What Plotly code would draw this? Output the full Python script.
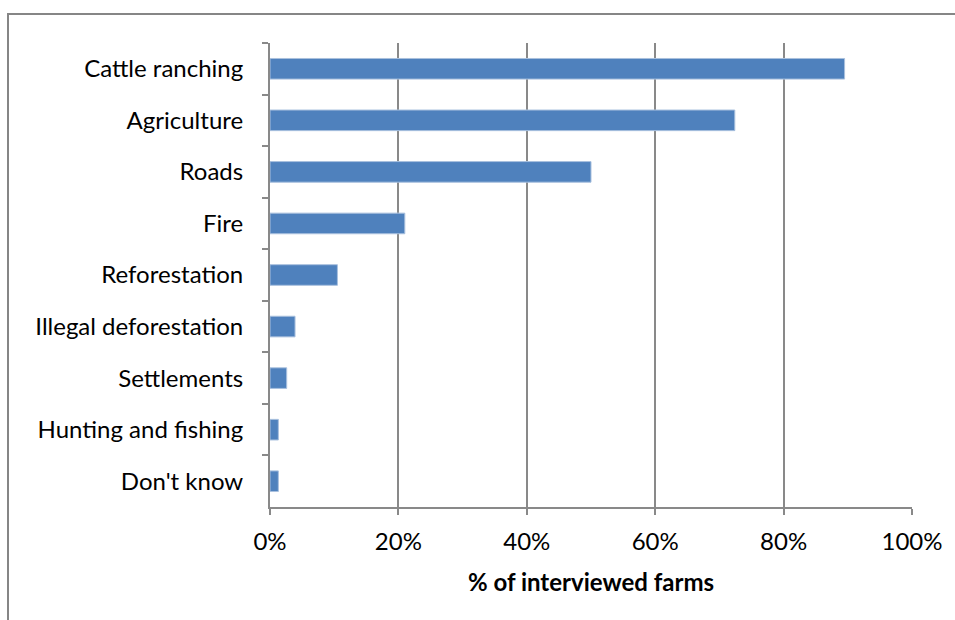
import plotly.graph_objects as go

# Drivers of deforestation reported by interviewed farms
categories = [
    "Cattle ranching",
    "Agriculture",
    "Roads",
    "Fire",
    "Reforestation",
    "Illegal deforestation",
    "Settlements",
    "Hunting and fishing",
    "Don't know",
]
share_pct = [89.5, 72.4, 50.0, 21.0, 10.5, 3.9, 2.6, 1.3, 1.3]
x_ticks = [0, 20, 40, 60, 80, 100]

W, H = 955, 620
ML, MR, MT, MB = 270, 43, 43, 113
pw, ph = W - ML - MR, H - MT - MB

def px_to_paper_x(px):
    return (px - ML) / pw

def px_to_paper_y(py):
    return (H - MB - py) / ph

fig = go.Figure(
    go.Bar(
        x=share_pct,
        y=categories,
        orientation="h",
        marker=dict(color="#4F81BD", line=dict(color="#A9C0DE", width=1)),
        hoverinfo="x+y",
    )
)

axis_gray = "#898989"
font_family = "Lato, 'Open Sans', sans-serif"

fig.update_layout(
    width=W,
    height=H,
    margin=dict(l=ML, r=MR, t=MT, b=MB),
    paper_bgcolor="white",
    plot_bgcolor="white",
    bargap=0.6,
    showlegend=False,
    font=dict(family=font_family, size=24, color="#000000"),
    xaxis=dict(
        range=[0, 100],
        tickvals=x_ticks,
        ticktext=[f"{v}%" for v in x_ticks],
        showgrid=True,
        gridcolor=axis_gray,
        gridwidth=1.5,
        zeroline=False,
        showline=True,
        linecolor=axis_gray,
        linewidth=2,
        ticks="outside",
        ticklen=6,
        tickcolor=axis_gray,
        tickwidth=1.5,
        ticklabelstandoff=6,
        tickfont=dict(size=24),
        title=dict(
            text="<b>% of interviewed farms</b>",
            font=dict(size=24),
            standoff=20,
        ),
        fixedrange=True,
    ),
    yaxis=dict(
        categoryorder="array",
        categoryarray=categories,
        autorange="reversed",
        showgrid=False,
        zeroline=False,
        showline=True,
        linecolor=axis_gray,
        linewidth=2,
        ticks="outside",
        tickson="boundaries",
        ticklen=6,
        tickcolor=axis_gray,
        tickwidth=1.5,
        ticklabelstandoff=20,
        tickfont=dict(size=24),
        fixedrange=True,
    ),
    shapes=[
        # chart area frame
        dict(
            type="rect",
            xref="paper",
            yref="paper",
            x0=px_to_paper_x(8),
            x1=px_to_paper_x(W + 20),
            y0=px_to_paper_y(H + 20),
            y1=px_to_paper_y(14),
            line=dict(color="#868686", width=2),
            fillcolor="rgba(0,0,0,0)",
            layer="below",
        )
    ],
)

fig.write_html("out.html")
